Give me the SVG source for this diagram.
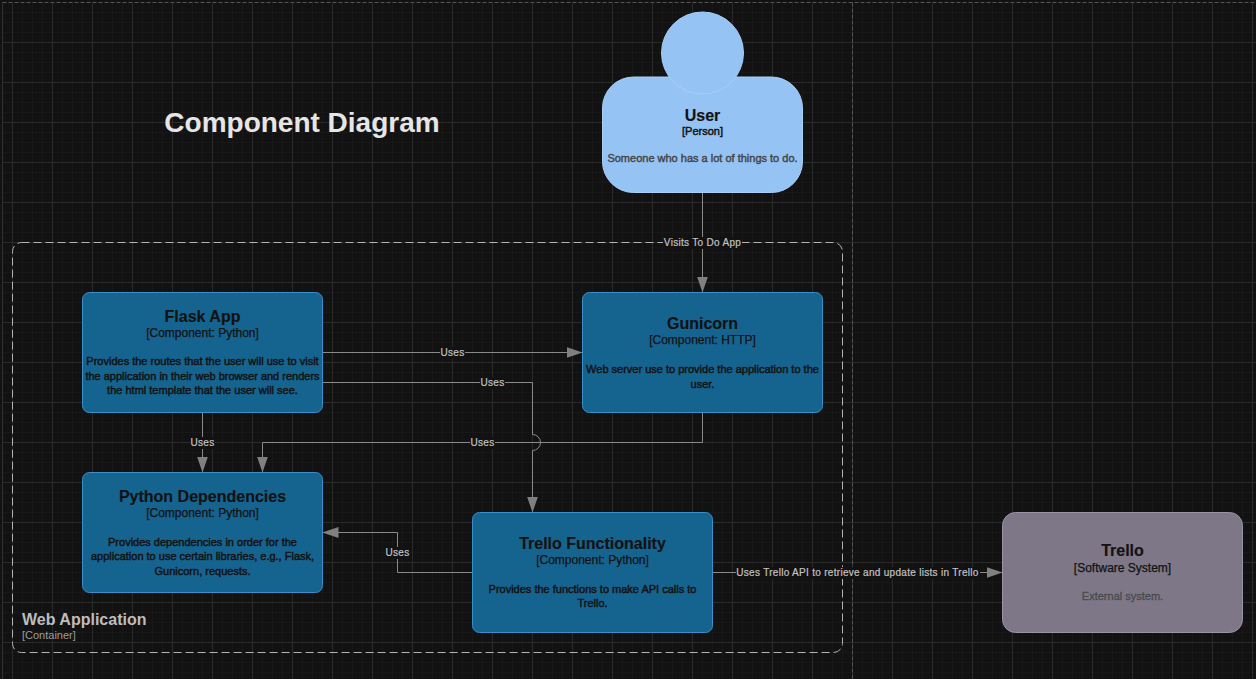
<svg xmlns="http://www.w3.org/2000/svg" width="1256" height="679" viewBox="0 0 1256 679">
<defs>
<pattern id="minor" width="10" height="10" patternUnits="userSpaceOnUse" x="2" y="2"><path d="M0.5 0V10M0 0.5H10" fill="none" stroke="#181818" stroke-width="1"/></pattern>
<pattern id="major" width="40" height="40" patternUnits="userSpaceOnUse" x="12" y="2"><path d="M0.5 0V40M0 0.5H40" fill="none" stroke="#2a2a2a" stroke-width="1"/></pattern>
<marker id="arrow" markerUnits="userSpaceOnUse" markerWidth="16" markerHeight="12" refX="16" refY="6" orient="auto"><path d="M0 0.5L16 6L0 11.5Z" fill="#808080"/></marker>
</defs>
<style>
text{font-family:"Liberation Sans",Arial,sans-serif;text-anchor:middle}
.c{fill:#156490;stroke:#3b8fcb;stroke-width:1}
.t{font-size:16px;font-weight:700;fill:#121212;stroke:#121212;stroke-width:.15px}
.s{font-size:12px;fill:#121212;stroke:#121212;stroke-width:.25px}
.d{font-size:11px;fill:#121212;stroke:#121212;stroke-width:.45px}
.l{font-size:10px;fill:#c2c2c2;letter-spacing:.3px;stroke:#c2c2c2;stroke-width:.2px}
.e{fill:none;stroke:#8a8a8a;stroke-width:1}
.b{fill:#121212}
</style>
<rect width="1256" height="679" fill="#121212"/>
<rect x="3" y="3" width="1253" height="676" fill="url(#minor)"/>
<rect x="3" y="3" width="1253" height="676" fill="url(#major)"/>
<path d="M2.500 679V2.500" fill="none" stroke="#333333"/>
<path d="M2.500 2.500H1256M852.500 2.500V679" fill="none" stroke="#555555" stroke-dasharray="4 2"/>
<text x="302" y="132" font-size="28" font-weight="700" fill="#e6e6e6">Component Diagram</text>
<g id="web-application">
<rect x="12.500" y="242.500" width="830" height="410" rx="9" fill="none" stroke="#b4b4b4" stroke-dasharray="8 4"/>
<text x="22" y="625" font-size="16" font-weight="700" fill="#bdbdbd" style="text-anchor:start">Web Application</text>
<text x="22" y="639" font-size="11" fill="#9c9c9c" style="text-anchor:start">[Container]</text>
</g>
<g id="connectors">
<path class="e" d="M702.500 192.500V292.500" marker-end="url(#arrow)"/>
<path class="e" d="M322.500 352.500H582.500" marker-end="url(#arrow)"/>
<path class="e" d="M322.500 382.500H532.500V434.500A8 8 0 0 1 532.500 450.500V512.500" marker-end="url(#arrow)"/>
<path class="e" d="M702.500 412.500V442.500H262.500V472.500" marker-end="url(#arrow)"/>
<path class="e" d="M202.500 412.500V472.500" marker-end="url(#arrow)"/>
<path class="e" d="M472.500 572.500H397.500V532.500H322.500" marker-end="url(#arrow)"/>
<path class="e" d="M712.500 572.500H1002.500" marker-end="url(#arrow)"/>
<g id="edge-labels">
<rect class="b" x="663" y="237" width="79" height="12"/><text class="l" x="702.500" y="246">Visits To Do App</text>
<rect class="b" x="440" y="347" width="25" height="12"/><text class="l" x="452.500" y="356">Uses</text>
<rect class="b" x="480" y="377" width="25" height="12"/><text class="l" x="492.500" y="386">Uses</text>
<rect class="b" x="470" y="437" width="25" height="12"/><text class="l" x="482.500" y="446">Uses</text>
<rect class="b" x="190" y="437" width="25" height="12"/><text class="l" x="202.500" y="446">Uses</text>
<rect class="b" x="385" y="547" width="25" height="12"/><text class="l" x="397.500" y="556">Uses</text>
<rect class="b" x="736" y="567" width="244" height="12"/><text class="l" x="857.500" y="576">Uses Trello API to retrieve and update lists in Trello</text>
</g>
</g>
<g id="user">
<rect x="602.500" y="77" width="200" height="115.500" rx="31" fill="#94c3f4" stroke="#a9cff6"/>
<circle cx="702.500" cy="53" r="41" fill="#94c3f4" stroke="#a9cff6"/>
<text class="t" x="702.500" y="121">User</text>
<text class="s" x="702.500" y="135" style="font-size:11px;stroke-width:.45px">[Person]</text>
<text x="702.500" y="162" font-size="11" fill="#444" stroke="#444" stroke-width=".4">Someone who has a lot of things to do.</text>
</g>
<g id="flask-app">
<rect class="c" x="82.500" y="292.500" width="240" height="120" rx="7"/>
<text class="t" x="202.500" y="322">Flask App</text>
<text class="s" x="202.500" y="337">[Component: Python]</text>
<text class="d" x="202.500" y="365">Provides the routes that the user will use to visit</text>
<text class="d" x="202.500" y="380">the application in their web browser and renders</text>
<text class="d" x="202.500" y="394">the html template that the user will see.</text>
</g>
<g id="gunicorn">
<rect class="c" x="582.500" y="292.500" width="240" height="120" rx="7"/>
<text class="t" x="702.500" y="329">Gunicorn</text>
<text class="s" x="702.500" y="344">[Component: HTTP]</text>
<text class="d" x="702.500" y="373">Web server use to provide the application to the</text>
<text class="d" x="702.500" y="388">user.</text>
</g>
<g id="python-dependencies">
<rect class="c" x="82.500" y="472.500" width="240" height="120" rx="7"/>
<text class="t" x="202.500" y="502">Python Dependencies</text>
<text class="s" x="202.500" y="517">[Component: Python]</text>
<text class="d" x="202.500" y="546">Provides dependencies in order for the</text>
<text class="d" x="202.500" y="560">application to use certain libraries, e.g., Flask,</text>
<text class="d" x="202.500" y="575">Gunicorn, requests.</text>
</g>
<g id="trello-functionality">
<rect class="c" x="472.500" y="512.500" width="240" height="120" rx="7"/>
<text class="t" x="592.500" y="549">Trello Functionality</text>
<text class="s" x="592.500" y="564">[Component: Python]</text>
<text class="d" x="592.500" y="593">Provides the functions to make API calls to</text>
<text class="d" x="592.500" y="607">Trello.</text>
</g>
<g id="trello">
<rect x="1002.500" y="512.500" width="240" height="120" rx="13" fill="#7d7787" stroke="#9b94a6"/>
<text class="t" x="1122.500" y="556">Trello</text>
<text class="s" x="1122.500" y="572">[Software System]</text>
<text x="1122.500" y="600" font-size="11" fill="#4a4a4a" stroke="#4a4a4a" stroke-width=".3">External system.</text>
</g>
</svg>
